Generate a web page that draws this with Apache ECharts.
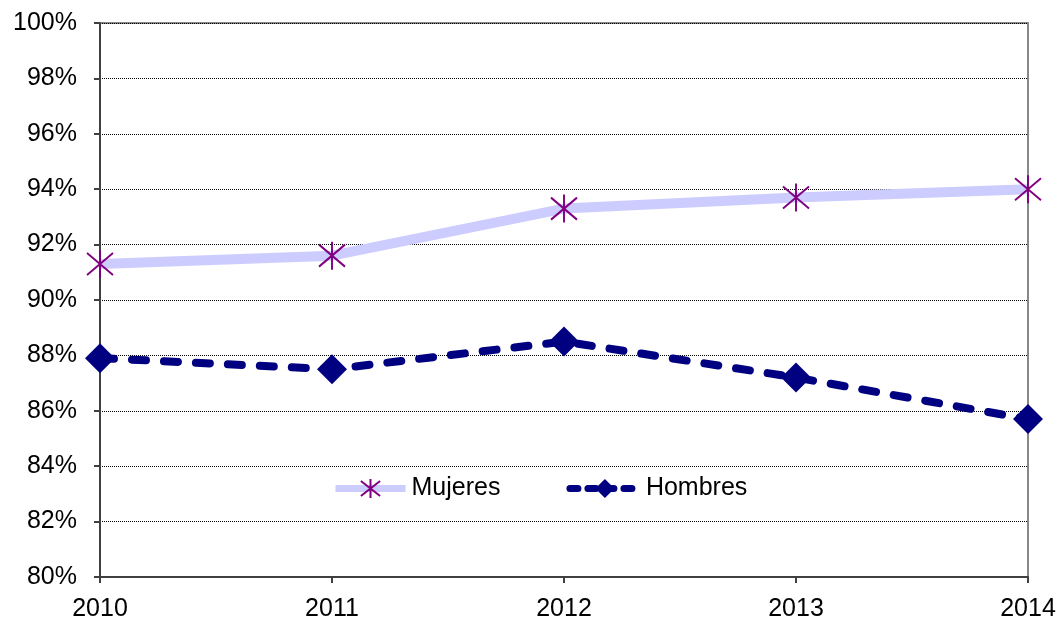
<!DOCTYPE html>
<html>
<head>
<meta charset="utf-8">
<script src="https://cdn.jsdelivr.net/npm/echarts@6/dist/echarts.min.js"></script>
<style>
  html, body { margin: 0; padding: 0; background: #fff; }
  #chart { width: 1060px; height: 629px; }
</style>
</head>
<body>
<div id="chart"></div>
<script>
const years = ['2010', '2011', '2012', '2013', '2014'];
const mujeres = [91.3, 91.6, 93.3, 93.7, 94.0];
const hombres = [87.9, 87.5, 88.5, 87.2, 85.7];

const asterisk = 'path://M12,0 L12,28 M0,3 L24,25 M0,25 L24,3';

const myChart = echarts.init(document.getElementById('chart'));
const option = {
    backgroundColor: '#fff',
    textStyle: { fontFamily: 'Liberation Sans, Arial, sans-serif' },
    grid: {
        left: 100,
        right: 32,
        top: 23,
        bottom: 52,
        show: true,
        borderColor: '#888',
        borderWidth: 2
    },
    legend: {
        left: 332,
        top: 476,
        padding: 0,
        itemWidth: 70,
        itemHeight: 24,
        itemGap: 66,
        textStyle: { fontSize: 25, color: '#000', padding: [0, 0, 0, 1] },
        data: [
            {
                name: 'Mujeres',
                lineStyle: { color: '#ccccff', width: 7 }
            },
            {
                name: 'Hombres',
                lineStyle: { color: '#000080', width: 7, type: [8, 10], cap: 'round' }
            }
        ]
    },
    xAxis: {
        type: 'category',
        data: years,
        boundaryGap: false,
        axisLine: { lineStyle: { color: '#404040', width: 2 } },
        axisTick: { show: true, length: 6, lineStyle: { color: '#404040', width: 2 } },
        axisLabel: { fontSize: 25, color: '#000', margin: 20 },
        splitLine: { show: false }
    },
    yAxis: {
        type: 'value',
        min: 80,
        max: 100,
        interval: 2,
        axisLine: { show: true, lineStyle: { color: '#404040', width: 2 } },
        axisTick: { show: true, length: 6, lineStyle: { color: '#404040', width: 2 } },
        axisLabel: { fontSize: 25, color: '#000', margin: 23, formatter: v => v + '%' },
        splitLine: { lineStyle: { color: '#000', width: 1, type: [1, 1] } }
    },
    series: [
        {
            name: 'Mujeres',
            type: 'line',
            data: mujeres,
            symbol: asterisk,
            symbolSize: [26, 28],
            lineStyle: { color: '#ccccff', width: 10 },
            itemStyle: { color: 'rgba(0,0,0,0)', borderColor: '#800080', borderWidth: 2 },
            emphasis: { disabled: true },
            z: 2
        },
        {
            name: 'Hombres',
            type: 'line',
            data: hombres,
            symbol: 'diamond',
            symbolSize: 30,
            lineStyle: { color: '#000080', width: 8, type: [14, 18], cap: 'round' },
            itemStyle: { color: '#000080' },
            emphasis: { disabled: true },
            z: 3
        }
    ]
};
myChart.setOption(option);
window.addEventListener('resize', function () {
    myChart.resize();
});
</script>
</body>
</html>
